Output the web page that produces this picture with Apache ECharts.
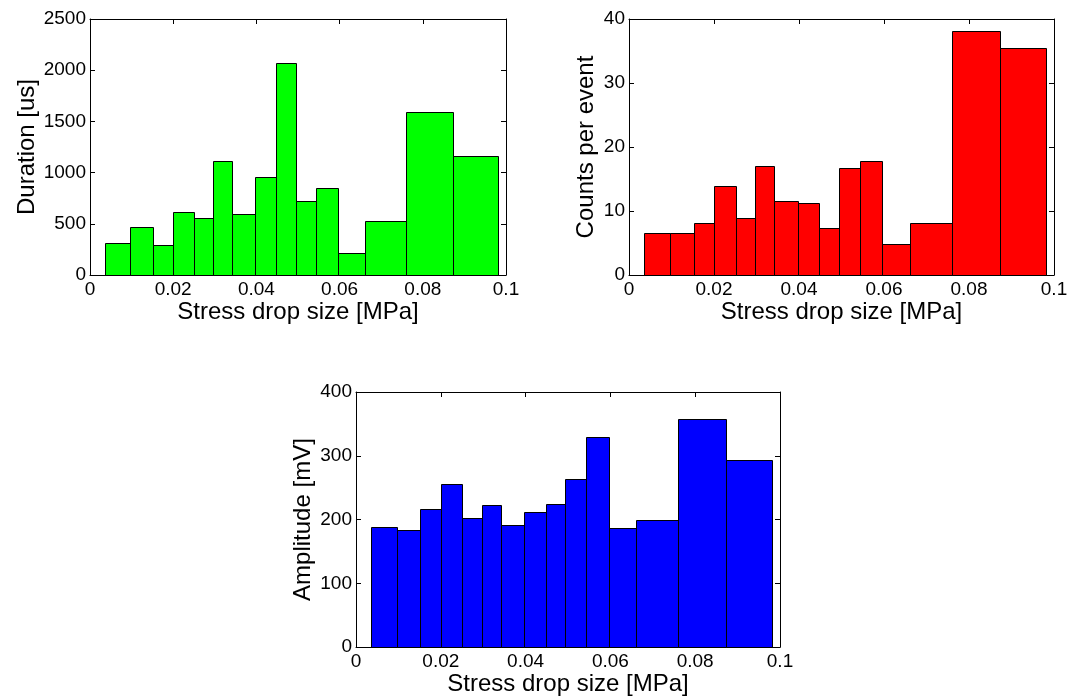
<!DOCTYPE html>
<html>
<head>
<meta charset="utf-8">
<title>Stress drop histograms</title>
<script src="https://cdn.jsdelivr.net/npm/echarts@6/dist/echarts.min.js"></script>
<style>
  html, body { margin: 0; padding: 0; background: #fff; }
  #chart { width: 1073px; height: 697px; }
</style>
</head>
<body>
<div id="chart"></div>
<script>
// Bin edges of the stress-drop histogram [MPa]
const binEdges = [0.0035, 0.0097, 0.0152, 0.0200, 0.0251, 0.0296, 0.0341, 0.0397,
                  0.0448, 0.0494, 0.0543, 0.0596, 0.0661, 0.0760, 0.0873, 0.0981];
// Mean event duration per bin [us]
const durationUs = [313, 469, 293, 613, 554, 1111, 593, 961, 2066, 720, 854, 218, 525, 1594, 1160];
// Mean counts per event per bin
const countsPerEvent = [6.5, 6.5, 8.1, 13.85, 8.85, 17.0, 11.5, 11.3, 7.3, 16.7, 17.75, 4.8, 8.2, 38.2, 35.5];
// Mean amplitude per bin [mV]
const amplitudeMv = [189, 183, 217, 255, 202, 223, 191, 212, 225, 264, 329, 186, 200, 357, 294];

const xTicks = { min: 0, max: 0.1, interval: 0.02 };
const FONT = '"Liberation Sans", Arial, Helvetica, sans-serif';

function binData(values) {
  return values.map((v, i) => [binEdges[i], binEdges[i + 1], v]);
}

const panels = [
  { grid: { left: 90, top: 19, width: 416, height: 256 }, yMax: 2500, yStep: 500,
    yName: 'Duration [us]', yGap: 49, values: durationUs, color: '#00ff00' },
  { grid: { left: 629, top: 19, width: 425, height: 256 }, yMax: 40, yStep: 10,
    yName: 'Counts per event', yGap: 31, values: countsPerEvent, color: '#ff0000' },
  { grid: { left: 356, top: 392, width: 424, height: 256 }, yMax: 400, yStep: 100,
    yName: 'Amplitude [mV]', yGap: 41, values: amplitudeMv, color: '#0000ff' }
];

const lineStyle = { color: '#000', width: 1 };
const tickStyle = { show: true, inside: true, length: 5, lineStyle: lineStyle };
const labelStyle = { color: '#000', fontFamily: FONT, fontSize: 19 };
const nameStyle = { color: '#000', fontFamily: FONT, fontSize: 24 };
const plainNumber = v => String(+v.toFixed(4));

const grids = [], xAxes = [], yAxes = [], series = [];

panels.forEach((p, k) => {
  grids.push(Object.assign({ containLabel: false }, p.grid));
  // bottom x axis with labels
  xAxes.push({
    type: 'value', gridIndex: k, position: 'bottom',
    min: xTicks.min, max: xTicks.max, interval: xTicks.interval,
    axisLine: { show: true, onZero: false, lineStyle: lineStyle },
    axisTick: tickStyle, splitLine: { show: false },
    axisLabel: Object.assign({ margin: 5, formatter: plainNumber }, labelStyle),
    name: 'Stress drop size [MPa]', nameLocation: 'middle', nameGap: 19,
    nameTextStyle: nameStyle
  });
  // top x axis: frame and ticks only
  xAxes.push({
    type: 'value', gridIndex: k, position: 'top',
    min: xTicks.min, max: xTicks.max, interval: xTicks.interval,
    axisLine: { show: true, onZero: false, lineStyle: lineStyle },
    axisTick: tickStyle, splitLine: { show: false }, axisLabel: { show: false }
  });
  // left y axis with labels
  yAxes.push({
    type: 'value', gridIndex: k, position: 'left',
    min: 0, max: p.yMax, interval: p.yStep,
    axisLine: { show: true, onZero: false, lineStyle: lineStyle },
    axisTick: tickStyle, splitLine: { show: false },
    axisLabel: Object.assign({ margin: 4, formatter: plainNumber }, labelStyle),
    name: p.yName, nameLocation: 'middle', nameGap: p.yGap, nameTextStyle: nameStyle
  });
  // right y axis: frame and ticks only
  yAxes.push({
    type: 'value', gridIndex: k, position: 'right',
    min: 0, max: p.yMax, interval: p.yStep,
    axisLine: { show: true, onZero: false, lineStyle: lineStyle },
    axisTick: tickStyle, splitLine: { show: false }, axisLabel: { show: false }
  });

  series.push({
    type: 'custom',
    xAxisIndex: 2 * k, yAxisIndex: 2 * k,
    data: binData(p.values),
    encode: { x: [0, 1], y: 2 },
    renderItem: function (params, api) {
      const topLeft = api.coord([api.value(0), api.value(2)]);
      const bottomRight = api.coord([api.value(1), 0]);
      return {
        type: 'rect',
        shape: {
          x: Math.round(topLeft[0]) + 0.5,
          y: Math.round(topLeft[1]) + 0.5,
          width: Math.round(bottomRight[0]) - Math.round(topLeft[0]),
          height: Math.round(bottomRight[1]) - Math.round(topLeft[1])
        },
        style: { fill: p.color, stroke: '#000', lineWidth: 1 }
      };
    }
  });
});

const chart = echarts.init(document.getElementById('chart'), null, { renderer: 'canvas' });
chart.setOption({
  animation: false,
  backgroundColor: '#fff',
  grid: grids,
  xAxis: xAxes,
  yAxis: yAxes,
  series: series
});
</script>
</body>
</html>
